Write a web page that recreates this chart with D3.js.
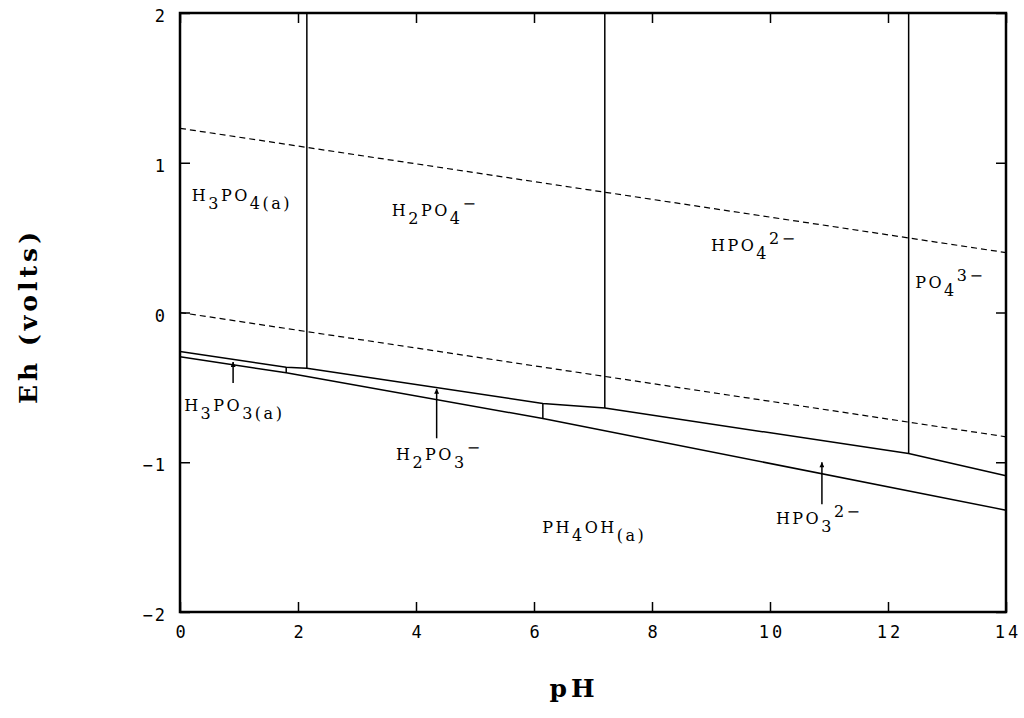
<!DOCTYPE html>
<html>
<head>
<meta charset="utf-8">
<script src="https://cdn.jsdelivr.net/npm/d3@7"></script>
<style>
  html, body { margin: 0; padding: 0; background: #fff; }
  svg { display: block; }
</style>
</head>
<body>
<svg id="chart" width="1024" height="718"></svg>
<script>
// ---------- data ----------
const pHTicks = [0, 2, 4, 6, 8, 10, 12, 14];
const ehTicks = [-2, -1, 0, 1, 2];

// water stability limits (dashed)
const waterUpper = [[0, 1.23], [14, 0.40]];
const waterLower = [[0, 0.0], [14, -0.83]];

// phosphate / phosphite boundary (upper solid line)
const phosphatePhosphite = [[0, -0.26], [1.8, -0.366], [2.15, -0.373], [6.15, -0.607], [7.2, -0.638], [12.35, -0.942], [14, -1.09]];
// phosphite / PH4OH boundary (lower solid line)
const phosphitePhosphine = [[0, -0.296], [1.8, -0.403], [6.15, -0.708], [14, -1.32]];

// vertical boundaries among phosphate species [pH, EhTop, EhBottom]
const phosphateBounds = [[2.15, 2, -0.373], [7.2, 2, -0.638], [12.35, 2, -0.942]];
// vertical boundaries among phosphite species
const phosphiteBounds = [[1.8, -0.366, -0.403], [6.15, -0.607, -0.708]];

// arrows [pH, EhFrom, EhTo]
const arrows = [[0.9, -0.47, -0.33], [4.35, -0.84, -0.51], [10.88, -1.28, -1.0]];

// species labels: parts [text, kind] with kind n=normal, b=subscript, p=superscript; anchor pH, Eh
const speciesNames = [
  [["H","n"],["3","b"],["PO","n"],["4","b"],["(a)","b"]],
  [["H","n"],["2","b"],["PO","n"],["4","b"],["\u2212","p"]],
  [["HPO","n"],["4","b"],["2\u2212","p"]],
  [["PO","n"],["4","b"],["3\u2212","p"]],
  [["PH","n"],["4","b"],["OH","n"],["(a)","b"]],
  [["H","n"],["3","b"],["PO","n"],["3","b"],["(a)","b"]],
  [["H","n"],["2","b"],["PO","n"],["3","b"],["\u2212","p"]],
  [["HPO","n"],["3","b"],["2\u2212","p"]]
];
const speciesPH = [0.2, 3.59, 9.0, 12.46, 6.14, 0.07, 3.66, 10.1];
const speciesEh = [0.742, 0.642, 0.411, 0.165, -1.472, -0.66, -0.983, -1.411];

// ---------- layout ----------
const svg = d3.select("#chart");
const x = d3.scaleLinear().domain([0, 14]).range([180, 1006]);
const y = d3.scaleLinear().domain([-2, 2]).range([612, 13]);

const line = d3.line().x(d => x(d[0])).y(d => y(d[1]));

// dashed water lines
[waterUpper, waterLower].forEach(w => {
  svg.append("path").attr("d", line(w))
    .attr("fill", "none").attr("stroke", "#000")
    .attr("stroke-width", 1.2).attr("stroke-dasharray", "6,4");
});

// solid boundaries
[phosphatePhosphite, phosphitePhosphine].forEach(l => {
  svg.append("path").attr("d", line(l))
    .attr("fill", "none").attr("stroke", "#000").attr("stroke-width", 1.5);
});

svg.selectAll("line.vb").data(phosphateBounds.concat(phosphiteBounds)).enter()
  .append("line").attr("class", "vb")
  .attr("x1", d => x(d[0])).attr("x2", d => x(d[0]))
  .attr("y1", d => y(d[1])).attr("y2", d => y(d[2]))
  .attr("stroke", "#000").attr("stroke-width", 1.5);

// arrows
const defs = svg.append("defs");
defs.append("marker").attr("id", "ah")
  .attr("viewBox", "0 0 10 10").attr("refX", 10).attr("refY", 5)
  .attr("markerWidth", 8).attr("markerHeight", 5)
  .attr("markerUnits", "userSpaceOnUse")
  .attr("orient", "auto")
  .append("path").attr("d", "M0,0 L10,5 L0,10 Z").attr("fill", "#000");

svg.selectAll("line.arr").data(arrows).enter()
  .append("line").attr("class", "arr")
  .attr("x1", d => x(d[0])).attr("x2", d => x(d[0]))
  .attr("y1", d => y(d[1])).attr("y2", d => y(d[2]))
  .attr("stroke", "#000").attr("stroke-width", 1.5)
  .attr("marker-end", "url(#ah)");

// species labels
const lbl = svg.append("g")
  .attr("font-family", "'DejaVu Serif', 'Liberation Serif', serif")
  .attr("font-size", 16).attr("letter-spacing", 2.5).attr("fill", "#000");
speciesNames.forEach((parts, i) => {
  const t = lbl.append("text").attr("x", x(speciesPH[i])).attr("y", y(speciesEh[i]));
  let cur = 0;
  parts.forEach(([s, k]) => {
    const target = k === "b" ? 8 : (k === "p" ? -7 : 0);
    t.append("tspan").attr("dy", target - cur).text(s);
    cur = target;
  });
});

// frame
svg.append("rect").attr("x", 180).attr("y", 13)
  .attr("width", 1006 - 180).attr("height", 612 - 13)
  .attr("fill", "none").attr("stroke", "#000").attr("stroke-width", 2.5);

// axes
const tickFont = "'DejaVu Sans Mono', monospace";
const gx = svg.append("g").attr("transform", "translate(0,612)")
  .call(d3.axisBottom(x).tickValues(pHTicks).tickSizeInner(-10).tickSizeOuter(0).tickPadding(14).tickFormat(d3.format("d")));
const gxTop = svg.append("g").attr("transform", "translate(0,13)")
  .call(d3.axisTop(x).tickValues(pHTicks).tickSizeInner(-10).tickSizeOuter(0).tickFormat(""));
const gy = svg.append("g").attr("transform", "translate(180,0)")
  .call(d3.axisLeft(y).tickValues(ehTicks).tickSizeInner(-10).tickSizeOuter(0).tickPadding(13).tickFormat(d3.format("d")));
const gyR = svg.append("g").attr("transform", "translate(1006,0)")
  .call(d3.axisRight(y).tickValues(ehTicks).tickSizeInner(-10).tickSizeOuter(0).tickFormat(""));

[gx, gxTop, gy, gyR].forEach(g => {
  g.select(".domain").remove();
  g.selectAll(".tick line").attr("stroke", "#000").attr("stroke-width", 1.5);
  g.selectAll("text").attr("font-family", tickFont).attr("font-size", 17)
    .attr("fill", "#000");
});
gx.selectAll("text").attr("letter-spacing", 3).attr("dx", 1.5);
gy.selectAll("text").attr("dy", "0.5em").attr("letter-spacing", 2);

// axis titles
const titleFont = "'DejaVu Serif', 'Liberation Serif', serif";
svg.append("text").attr("x", 574).attr("y", 697)
  .attr("text-anchor", "middle")
  .attr("font-family", titleFont).attr("letter-spacing", 4)
  .attr("font-weight", "bold").attr("font-size", 25).text("pH");
svg.append("text")
  .attr("transform", "translate(37,316) rotate(-90)")
  .attr("text-anchor", "middle")
  .attr("font-family", titleFont).attr("letter-spacing", 4)
  .attr("font-weight", "bold").attr("font-size", 25).text("Eh (volts)");
</script>
</body>
</html>
